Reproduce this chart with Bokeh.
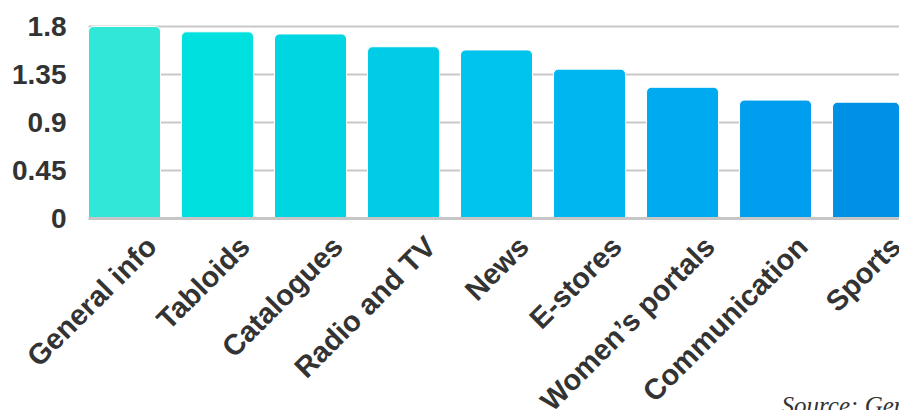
from bokeh.plotting import figure
from bokeh.models import Range1d, ColumnDataSource, Label, LabelSet
from bokeh.core.properties import value
from bokeh.embed import file_html
from bokeh.resources import INLINE
from math import pi

categories = ["General info", "Tabloids", "Catalogues", "Radio and TV", "News",
              "E-stores", "Women\u2019s portals", "Communication", "Sports"]
values = [1.80, 1.75, 1.73, 1.61, 1.58, 1.40, 1.23, 1.11, 1.09]
colors = ["#31E8D8", "#00E0DE", "#00D6E2", "#00CCE8", "#00C3EE",
          "#00B6F0", "#00AAF1", "#009EEE", "#0090E6"]
y_ticks = [0, 0.45, 0.9, 1.35, 1.8]
y_tick_labels = ["0", "0.45", "0.9", "1.35", "1.8"]
source_text = "Source: Gemius"

# plotting area bounds in data units (bars start flush at the left bound)
x_lo, x_hi = 0.113, 8.833
x_view_start = x_lo - 88 / 93.0

x_pos = [i + 0.5 for i in range(len(categories))]
src = ColumnDataSource(dict(x=x_pos, top=values, color=colors, cat=categories,
                            base=[0] * len(categories)))
grid_src = ColumnDataSource(dict(y=y_ticks, lab=y_tick_labels,
                                 x0=[x_lo] * len(y_ticks), x1=[x_hi] * len(y_ticks),
                                 sx=[66] * len(y_ticks)))

FONT = value("Liberation Sans")

p = figure(width=899, height=410, output_backend="svg", toolbar_location=None,
           x_range=Range1d(x_view_start, x_hi), y_range=Range1d(-1.8, 2.0435),
           min_border_left=0, min_border_right=0, min_border_top=0, min_border_bottom=0)
p.outline_line_color = None
p.background_fill_color = "white"
p.border_fill_color = "white"
p.xaxis.visible = False
p.yaxis.visible = False
p.grid.visible = False

# horizontal grid lines (not at 0)
g = grid_src.data
p.segment(x0=g["x0"][1:], x1=g["x1"][1:], y0=g["y"][1:], y1=g["y"][1:],
          line_color="#C8C8C8", line_width=2)

p.vbar(x="x", top="top", width=0.774, bottom=0, fill_color="color",
       line_color="white", line_width=1, source=src,
       border_radius=(5, 5, 0, 0))

# baseline at 0
p.segment(x0=[x_lo], x1=[x_hi], y0=[0], y1=[0], line_color="#C6C6C6", line_width=3)

# y tick labels
y_labels = LabelSet(x="sx", y="y", text="lab", source=grid_src, x_units="screen",
                    text_align="right", text_baseline="middle",
                    text_font=FONT, text_font_style="bold",
                    text_font_size="28px", text_color="#333333")
p.add_layout(y_labels)

# category labels, rotated
cat_labels = LabelSet(x="x", y="base", text="cat", source=src,
                      angle=pi / 4, x_offset=27, y_offset=-23,
                      text_align="right", text_baseline="middle",
                      text_font=FONT, text_font_style="bold",
                      text_font_size="29px", text_color="#333333")
p.add_layout(cat_labels)

src_label = Label(x=7.565, y=-1.75, text=source_text, text_font="Liberation Serif",
                  text_font_style="italic", text_font_size="25px",
                  text_color="#333333", text_baseline="alphabetic")
p.add_layout(src_label)

open("out.html", "w").write(file_html(p, INLINE))
